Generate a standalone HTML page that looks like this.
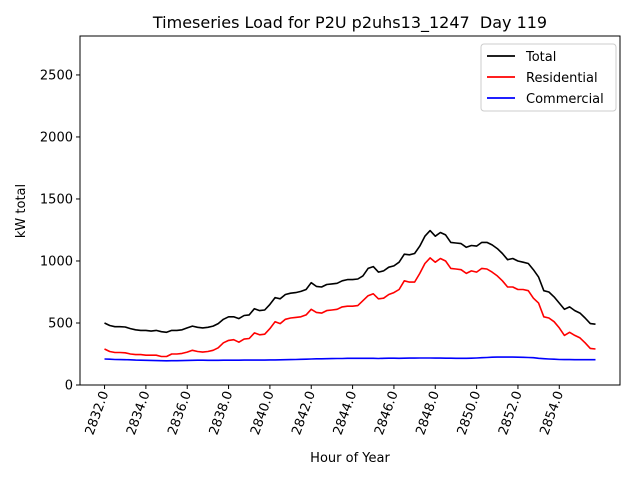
<!DOCTYPE html>
<html><head><meta charset="utf-8"><style>body{margin:0;background:#fff}svg{display:block;font-family:"DejaVu Sans","Liberation Sans",sans-serif}</style></head>
<body>
<svg id="chart" width="640" height="480" xmlns="http://www.w3.org/2000/svg"></svg>
<script>
const startHour = 2832, stepHour = 0.25;
const totalLoad = [500,480,470,470,468,455,445,440,440,435,440,430,425,440,440,445,460,475,465,460,465,475,495,530,550,550,535,560,565,615,600,605,650,705,695,730,740,745,755,770,825,795,790,810,815,820,840,850,850,855,880,940,955,910,920,950,960,990,1055,1050,1060,1120,1200,1245,1200,1230,1210,1150,1145,1140,1110,1125,1120,1150,1150,1130,1100,1060,1010,1020,1000,990,980,930,870,760,750,710,660,610,630,600,580,540,495,490];
const residentialLoad = [290,270,262,262,260,250,245,245,240,240,240,230,230,250,250,255,265,280,270,265,270,280,300,340,360,365,345,370,375,420,405,410,455,510,495,530,540,545,550,565,610,585,580,600,605,610,630,635,635,640,680,720,735,695,700,730,745,770,840,830,830,900,980,1025,990,1020,1000,940,935,930,900,920,910,940,935,910,880,840,790,790,770,770,760,700,660,550,540,510,460,400,425,400,380,340,295,290];
const commercialLoad = [210,208,206,205,204,203,201,200,199,198,197,196,195,196,196,197,198,199,200,200,199,199,199,200,200,200,200,201,201,201,201,201,202,202,203,204,205,206,207,208,210,211,211,212,213,214,214,215,215,215,215,215,215,214,215,216,216,215,216,217,217,218,218,218,217,217,216,216,215,215,215,216,218,220,222,224,225,225,225,225,224,223,222,220,215,212,210,208,206,205,205,204,204,204,204,204];
const xTicks = [2832,2834,2836,2838,2840,2842,2844,2846,2848,2850,2852,2854];
const yTicks = [0,500,1000,1500,2000,2500];
const xMin = 2830.8125, xMax = 2856.9375, yMax = 2814;
const L=80,R=620,T=36,B=385;
const sx = v => L + (v - xMin) / (xMax - xMin) * (R - L);
const sy = v => B - v / yMax * (B - T);
const svg = document.getElementById('chart');
const NS = 'http://www.w3.org/2000/svg';
function mk(tag, attrs, parent){const e=document.createElementNS(NS,tag);for(const k in attrs)e.setAttribute(k,attrs[k]);(parent||svg).appendChild(e);return e;}
let t = mk('text',{x:350,y:28,'text-anchor':'middle','font-size':16,fill:'#000',style:'white-space:pre'});


t.textContent='Timeseries Load for P2U p2uhs13_1247  Day 119';
function series(arr,color,name){
  const pts = arr.map((v,i)=>sx(startHour+i*stepHour).toFixed(1)+','+sy(v).toFixed(1)).join(' ');
  const p = mk('polyline',{points:pts,fill:'none',stroke:color,'stroke-width':1.6,'stroke-linejoin':'round'});
  
  
}
series(commercialLoad,'#0000ff','commercial-line');
series(residentialLoad,'#ff0000','residential-line');
series(totalLoad,'#000000','total-line');
const frame = mk('rect',{x:L,y:T,width:R-L,height:B-T,fill:'none',stroke:'#000','stroke-width':1});


xTicks.forEach(v=>{
  const x=sx(v);
  mk('line',{x1:x,y1:B,x2:x,y2:B+4,stroke:'#000'});
  const tl=mk('text',{x:0,y:0,'text-anchor':'end','font-size':13,fill:'#000',transform:`translate(${x+4},${B+8}) rotate(-70)`});
  
  
  tl.textContent=v.toFixed(1);
});
yTicks.forEach(v=>{
  const y=sy(v);
  mk('line',{x1:L-4,y1:y,x2:L,y2:y,stroke:'#000'});
  const tl=mk('text',{x:L-7,y:y+4.5,'text-anchor':'end','font-size':13,fill:'#000'});
  
  
  tl.textContent=v;
});
let xl=mk('text',{x:350,y:462,'text-anchor':'middle','font-size':13,fill:'#000'});


xl.textContent='Hour of Year';
let yl=mk('text',{x:0,y:0,'text-anchor':'middle','font-size':13,fill:'#000',transform:'translate(25,211) rotate(-90)'});


yl.textContent='kW total';
const lg=mk('g',{});


mk('rect',{x:481,y:44,width:135,height:67,rx:3,fill:'#fff',stroke:'#ccc'},lg);
[['Total','#000'],['Residential','#ff0000'],['Commercial','#0000ff']].forEach((e,i)=>{
  const y=56+i*21;
  const g=mk('g',{},lg);
  
  
  mk('line',{x1:487,y1:y,x2:515,y2:y,stroke:e[1],'stroke-width':1.8},g);
  const tx=mk('text',{x:526,y:y+5,'font-size':13,fill:'#000'},g);
  tx.textContent=e[0];
});
</script>
</body></html>
